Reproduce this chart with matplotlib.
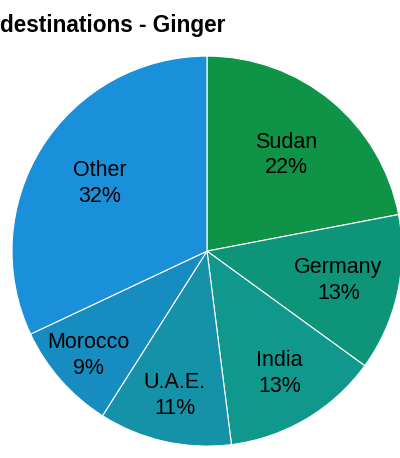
import matplotlib.pyplot as plt
import numpy as np

plt.rcParams['font.family'] = ['Liberation Sans', 'DejaVu Sans']

countries = ['Sudan', 'Germany', 'India', 'U.A.E.', 'Morocco', 'Other']
shares = [22, 13, 13, 11, 9, 32]
colors = ['#0f9347', '#0e9479', '#11988c', '#1592a8', '#178cc0', '#1a8fda']
label_dist = [0.64, 0.69, 0.73, 0.76, 0.81, 0.65]

fig = plt.figure(figsize=(4, 4.58), dpi=100)
ax = fig.add_axes([0.03, 0.026, 0.975, 0.8515])

wedges, _ = ax.pie(shares, colors=colors, startangle=90, counterclock=False,
                   wedgeprops=dict(edgecolor='white', linewidth=0.8))
ax.set_xlim(-1, 1)
ax.set_ylim(-1, 1)

for w, name, val, d in zip(wedges, countries, shares, label_dist):
    ang = np.deg2rad((w.theta1 + w.theta2) / 2)
    ax.text(d * np.cos(ang), d * np.sin(ang), f'{name}\n{val}%',
            ha='center', va='center', fontsize=15.5, linespacing=1.3)

fig.text(0.0, 0.945, 'destinations - Ginger', fontsize=16.3,
         fontweight='bold', ha='left', va='center')

plt.savefig('out.png', dpi=100)
